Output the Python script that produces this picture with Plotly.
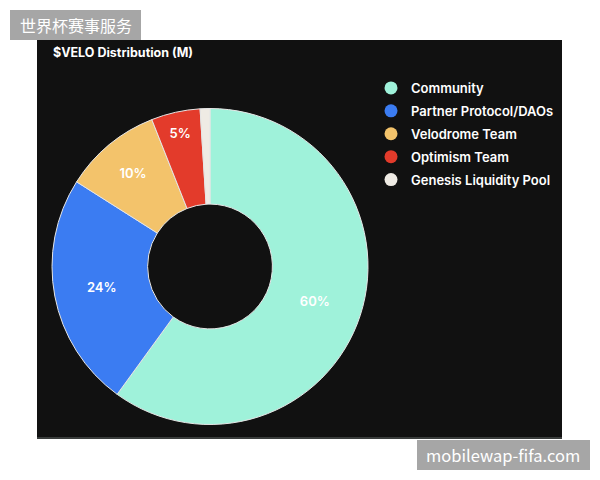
import plotly.graph_objects as go

labels = ["Community", "Partner Protocol/DAOs", "Velodrome Team", "Optimism Team", "Genesis Liquidity Pool"]
values = [60, 24, 10, 5, 1]
colors = ["#9ff2da", "#3b7cf2", "#f3c36b", "#e33b2b", "#efebe4"]
slice_text = ["%{percent:.0%}", "%{percent:.0%}", "%{percent:.0%}", "%{percent:.0%}", ""]
title_text = "$VELO Distribution (M)"
wm_top = "世界杯赛事服务"
wm_bottom = "mobilewap-fifa.com"

W, H = 600, 480
def px(x):
    return x / W
def py(y):
    return 1 - y / H

fig = go.Figure()

fig.add_trace(go.Pie(
    labels=labels,
    values=values,
    marker=dict(colors=colors, line=dict(color="#e6e6e6", width=1)),
    hole=0.395,
    sort=False,
    direction="clockwise",
    rotation=0,
    texttemplate=slice_text,
    textposition="inside",
    insidetextorientation="horizontal",
    textfont=dict(color="white", size=13, family="Inter, Lato, sans-serif", weight=600),
    domain=dict(x=[px(52), px(368)], y=[py(425), py(108)]),
    showlegend=False,
    hoverinfo="label+percent",
))

for i, (lab, col) in enumerate(zip(labels, colors)):
    fig.add_trace(go.Scatter(
        x=[None], y=[None], mode="markers",
        marker=dict(symbol="circle", size=13, color=col),
        name=lab, legendgroup=f"g{i}", showlegend=True,
    ))

fig.update_xaxes(visible=False)
fig.update_yaxes(visible=False)

# dark panel
fig.add_shape(type="rect", xref="paper", yref="paper",
              x0=px(37), x1=px(562), y0=py(438), y1=py(40),
              fillcolor="#111111", line=dict(width=0), layer="below")
fig.add_shape(type="rect", xref="paper", yref="paper",
              x0=px(37), x1=px(562), y0=py(439), y1=py(437),
              fillcolor="#3a3d3c", line=dict(width=0), layer="below")
# watermark boxes
fig.add_shape(type="rect", xref="paper", yref="paper",
              x0=px(10), x1=px(141), y0=py(40), y1=py(10),
              fillcolor="#a6a6a6", line=dict(width=0), layer="above")
fig.add_shape(type="rect", xref="paper", yref="paper",
              x0=px(417), x1=px(590), y0=py(470), y1=py(440),
              fillcolor="#a6a6a6", line=dict(width=0), layer="above")

fig.add_annotation(text=title_text, xref="paper", yref="paper",
                   x=px(51), y=py(52), xanchor="left", yanchor="middle",
                   showarrow=False,
                   font=dict(color="white", size=12.5, family="Inter, Lato, sans-serif", weight=700))
fig.add_annotation(text=wm_top, xref="paper", yref="paper",
                   x=px(75.5), y=py(25), xanchor="center", yanchor="middle",
                   showarrow=False,
                   font=dict(color="white", size=16, family="Noto Sans CJK SC"))
fig.add_annotation(text=wm_bottom, xref="paper", yref="paper",
                   x=px(503.5), y=py(455), xanchor="center", yanchor="middle",
                   showarrow=False,
                   font=dict(color="white", size=16.5, family="Noto Sans CJK SC"))

fig.update_layout(
    width=W, height=H,
    margin=dict(l=0, r=0, t=0, b=0),
    paper_bgcolor="white",
    plot_bgcolor="rgba(0,0,0,0)",
    legend=dict(
        x=px(371), y=py(73), xanchor="left", yanchor="top",
        bgcolor="rgba(0,0,0,0)",
        font=dict(color="white", size=13, family="Inter, Lato, sans-serif", weight=600),
        tracegroupgap=3,
        itemwidth=30,
    ),
)

fig.write_html("out.html")
